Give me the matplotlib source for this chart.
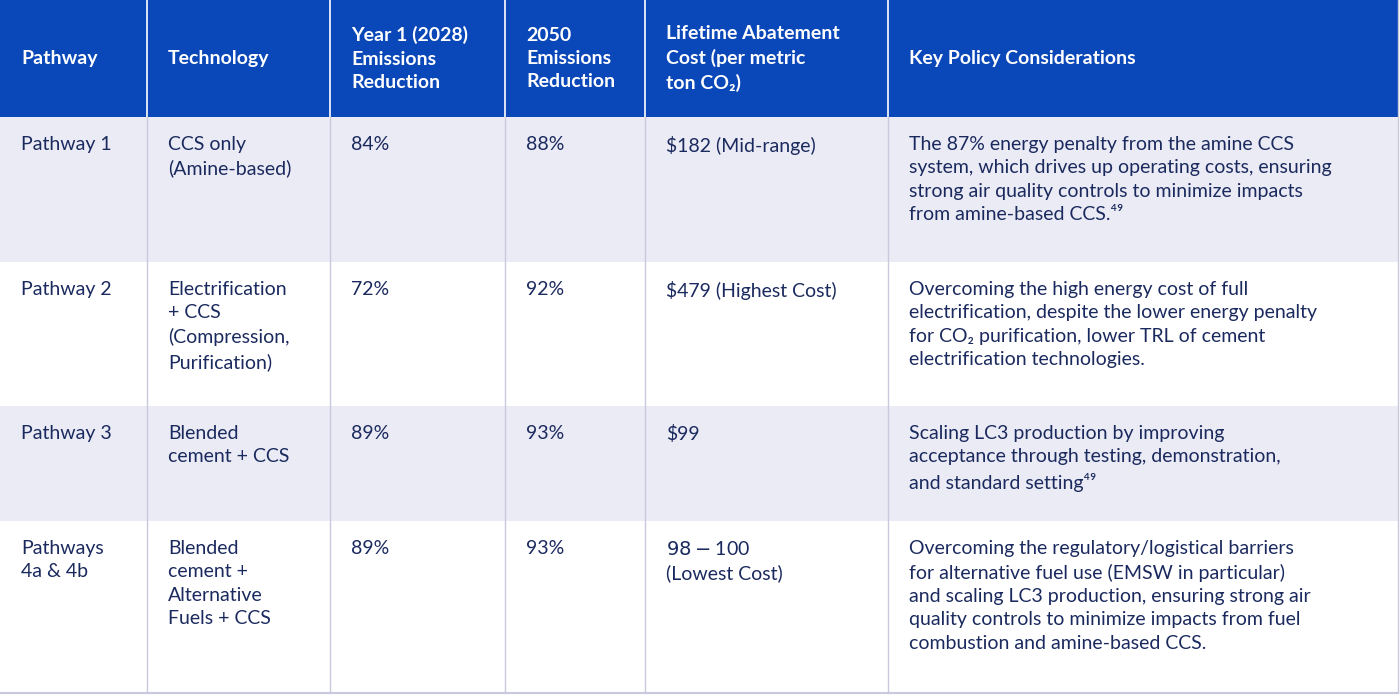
import matplotlib
matplotlib.use("Agg")
import matplotlib.pyplot as plt
from matplotlib.patches import Rectangle

plt.rcParams['font.family'] = ['Lato', 'DejaVu Sans']

headers = ["Pathway", "Technology", "Year 1 (2028)\nEmissions\nReduction", "2050\nEmissions\nReduction",
           "Lifetime Abatement\nCost (per metric\nton CO₂)", "Key Policy Considerations"]
pathways = ["Pathway 1", "Pathway 2", "Pathway 3", "Pathways\n4a & 4b"]
technologies = ["CCS only\n(Amine-based)", "Electrification\n+ CCS\n(Compression,\nPurification)",
                "Blended\ncement + CCS", "Blended\ncement +\nAlternative\nFuels + CCS"]
year1 = ["84%", "72%", "89%", "89%"]
y2050 = ["88%", "92%", "93%", "93%"]
cost = ["$182 (Mid-range)", "$479 (Highest Cost)", "$99", "$98-$100\n(Lowest Cost)"]
policy = [
    "The 87% energy penalty from the amine CCS\nsystem, which drives up operating costs, ensuring\nstrong air quality controls to minimize impacts\nfrom amine-based CCS.⁴⁹",
    "Overcoming the high energy cost of full\nelectrification, despite the lower energy penalty\nfor CO₂ purification, lower TRL of cement\nelectrification technologies.",
    "Scaling LC3 production by improving\nacceptance through testing, demonstration,\nand standard setting⁴⁹",
    "Overcoming the regulatory/logistical barriers\nfor alternative fuel use (EMSW in particular)\nand scaling LC3 production, ensuring strong air\nquality controls to minimize impacts from fuel\ncombustion and amine-based CCS.",
]

col_x = [0, 147, 330, 505, 645, 888, 1398]
row_y = [0, 117, 262, 406, 521, 693]
W, H = 1400, 698
blue = "#0a47b8"
navy = "#1b2a5e"
band = "#ebebf5"

fig = plt.figure(figsize=(14, 6.98), dpi=100)
ax = fig.add_axes([0, 0, 1, 1])
ax.set_xlim(0, W)
ax.set_ylim(H, 0)
ax.axis('off')

ax.add_patch(Rectangle((0, 0), 1398, row_y[1], color=blue, lw=0))
for i in range(4):
    c = band if i % 2 == 0 else "white"
    ax.add_patch(Rectangle((0, row_y[i + 1]), 1398, row_y[i + 2] - row_y[i + 1], color=c, lw=0))
for x in col_x[1:-1]:
    ax.plot([x, x], [0, row_y[1]], color="white", lw=1.2)
    ax.plot([x, x], [row_y[1], row_y[-1]], color="#c9c9de", lw=1)
ax.plot([col_x[-1], col_x[-1]], [0, row_y[-1]], color="#c9c9de", lw=1)
ax.plot([0, 1398], [row_y[-1], row_y[-1]], color="#c9c9de", lw=1.5)

fs = 14
for j, h in enumerate(headers):
    ax.text(col_x[j] + 21, row_y[1] / 2, h, color="white", fontsize=fs, fontweight="bold",
            va="center", ha="left", linespacing=1.45)

cols = [pathways, technologies, year1, y2050, cost, policy]
for i in range(4):
    for j, col in enumerate(cols):
        ax.text(col_x[j] + 21, row_y[i + 1] + 19, col[i], color=navy, fontsize=fs,
                va="top", ha="left", linespacing=1.45)

fig.savefig("out.png", dpi=100)
